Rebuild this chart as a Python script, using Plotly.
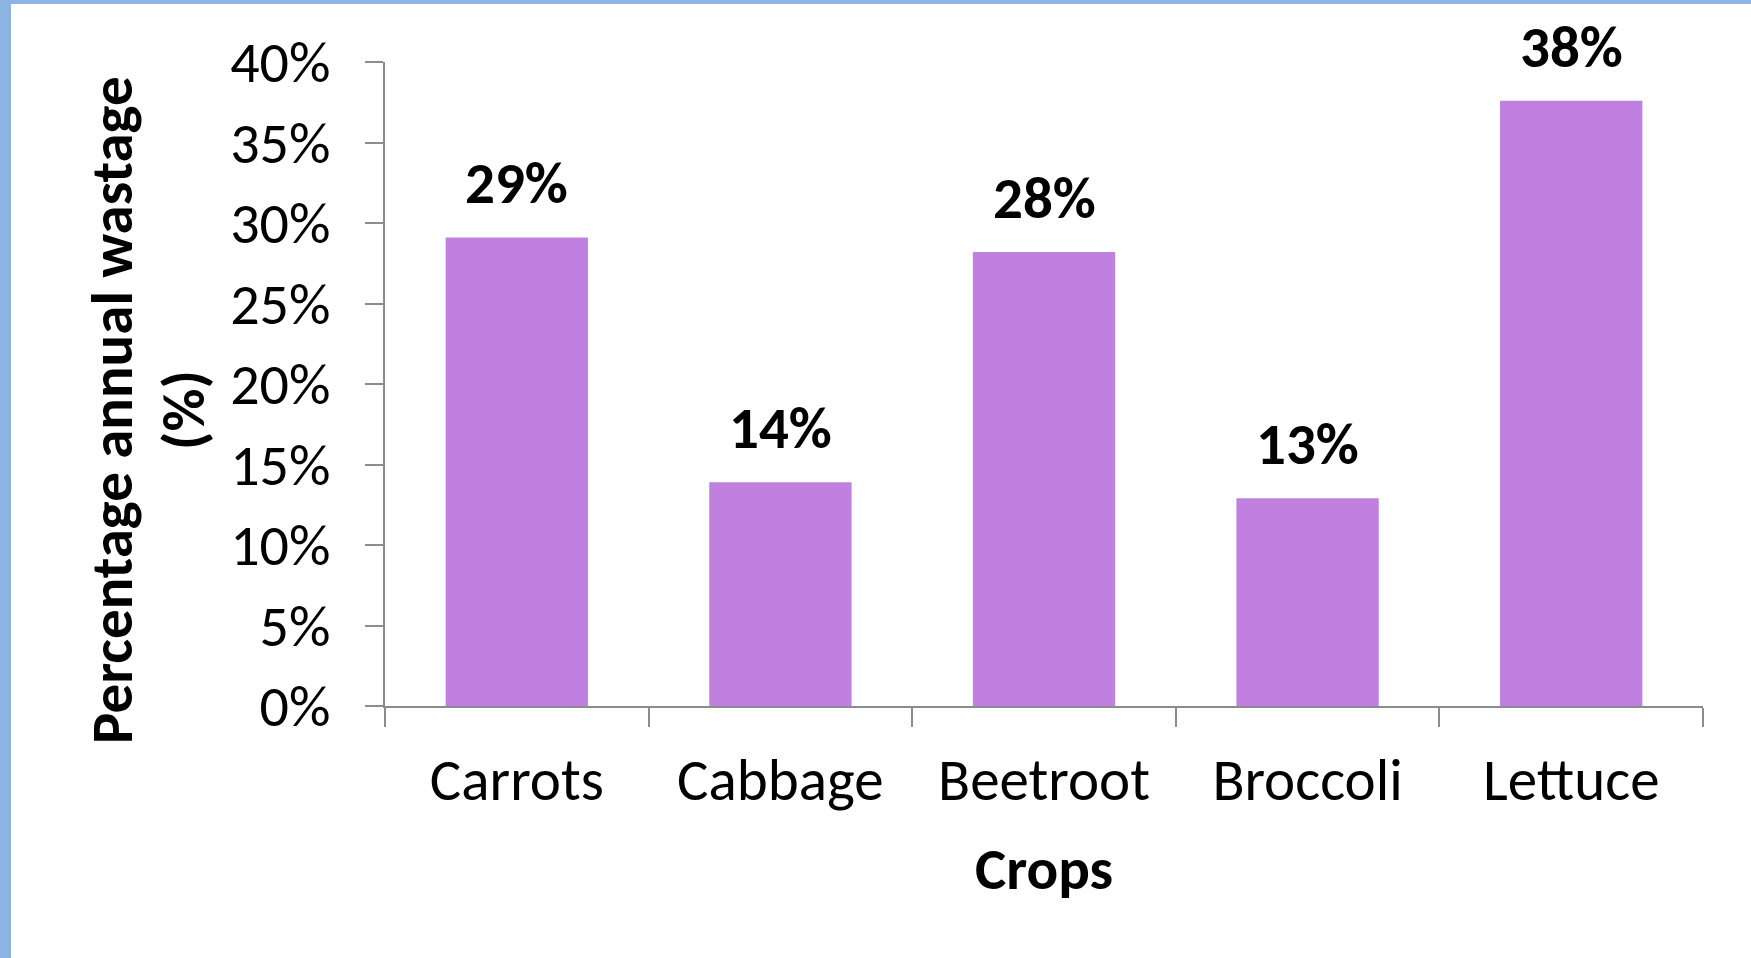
import plotly.graph_objects as go

crops = ["Carrots", "Cabbage", "Beetroot", "Broccoli", "Lettuce"]
wastage = [0.291, 0.139, 0.282, 0.129, 0.376]
labels = ["29%", "14%", "28%", "13%", "38%"]
y_ticks = [0, 0.05, 0.10, 0.15, 0.20, 0.25, 0.30, 0.35, 0.40]
y_ticktext = ["0%", "5%", "10%", "15%", "20%", "25%", "30%", "35%", "40%"]

FONT = "Carlito, Calibri, Lato, sans-serif"
W, H = 1751, 958
L, R, T, B = 385, 48, 62, 252
PW, PH = W - L - R, H - T - B


def px(x):
    return (x - L) / PW


def py(y):
    return (H - B - y) / PH


fig = go.Figure()
fig.add_trace(go.Bar(x=crops, y=wastage, marker=dict(color="#BF80E0", line=dict(width=0)),
                     width=0.54, hoverinfo="skip"))

for c, v, t in zip(crops, wastage, labels):
    fig.add_annotation(x=c, y=v, text=f"<b>{t}</b>", showarrow=False, yanchor="bottom",
                       yshift=16, font=dict(family=FONT, size=59, color="#000000"))

fig.add_annotation(x=px(112), y=py(410), xref="paper", yref="paper", xanchor="center", yanchor="middle",
                   text="<b>Percentage annual wastage</b>", textangle=-90, showarrow=False,
                   font=dict(family=FONT, size=59, color="#000000"))
fig.add_annotation(x=px(184), y=py(410), xref="paper", yref="paper", xanchor="center", yanchor="middle",
                   text="<b>(%)</b>", textangle=-90, showarrow=False,
                   font=dict(family=FONT, size=59, color="#000000"))
fig.add_annotation(x=0.5, y=py(869), xref="paper", yref="paper", xanchor="center",
                   yanchor="middle", text="<b>Crops</b>", showarrow=False,
                   font=dict(family=FONT, size=59, color="#000000"))

# page border strips
fig.add_shape(type="rect", xref="paper", yref="paper", x0=px(0), x1=px(11),
              y0=py(H), y1=py(0), fillcolor="#8DB3E2", line=dict(width=0), layer="below")
fig.add_shape(type="rect", xref="paper", yref="paper", x0=px(0), x1=px(W),
              y0=py(4), y1=py(0), fillcolor="#8DB3E2", line=dict(width=0), layer="below")

fig.update_layout(
    width=W, height=H,
    margin=dict(l=L, r=R, t=T, b=B),
    paper_bgcolor="#FFFFFF", plot_bgcolor="#FFFFFF",
    showlegend=False,
    font=dict(family=FONT, size=58, color="#000000"),
    xaxis=dict(showline=True, linecolor="#8C8C8C", linewidth=2, ticks="outside", ticklen=19,
               tickcolor="#8C8C8C", tickwidth=2, tickson="boundaries", showgrid=False,
               tickfont=dict(family=FONT, size=59, color="#000000"), ticklabelstandoff=21),
    yaxis=dict(range=[0, 0.40], tickvals=y_ticks, ticktext=y_ticktext, showline=True, linecolor="#8C8C8C",
               linewidth=2, ticks="outside", ticklen=18, tickcolor="#8C8C8C", tickwidth=2, showgrid=False,
               zeroline=False, tickfont=dict(family=FONT, size=58, color="#000000"), ticklabelstandoff=23),
)

fig.write_html("out.html")
